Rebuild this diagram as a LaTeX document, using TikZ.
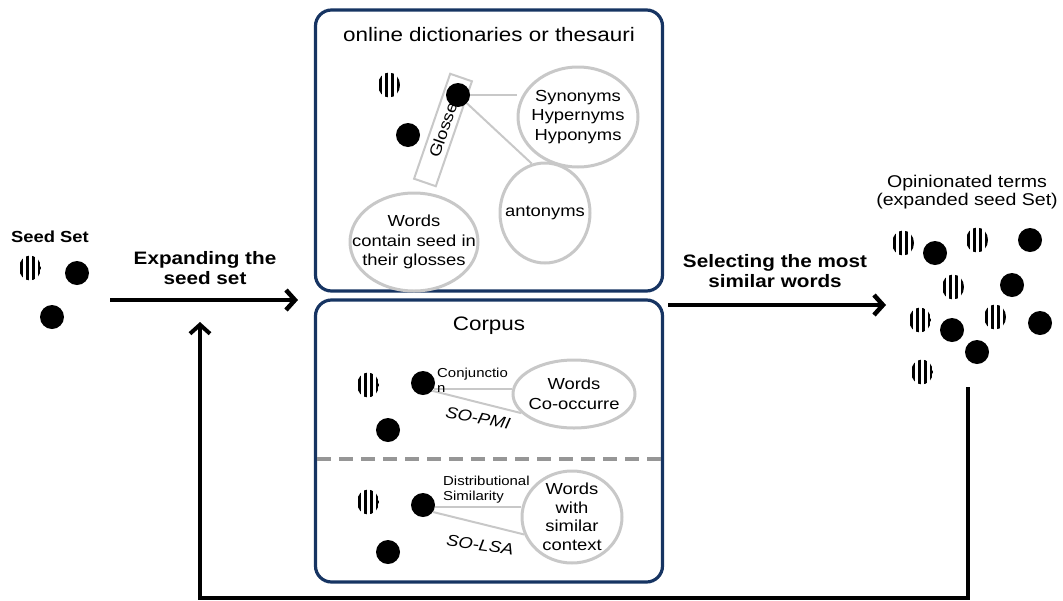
\documentclass[tikz,border=0pt]{standalone}
\usepackage{fontspec}
\setmainfont{Liberation Sans}[FakeStretch=1.15]
\usetikzlibrary{arrows.meta, positioning, calc, shapes.geometric}

\definecolor{panelblue}{RGB}{22,52,98}
\definecolor{ringgray}{RGB}{200,200,200}

\begin{document}
\begin{tikzpicture}[
    x=1pt, y=-1pt,
    panel/.style={draw=panelblue, line width=3.2pt, rounded corners=16pt,
                  minimum width=347pt},
    ttl/.style={font=\fontsize{19.5}{22}\selectfont},
    ring/.style={ellipse, draw=ringgray, line width=3pt, fill=white, inner sep=0pt},
    ringtxt/.style={align=center, inner sep=0pt, font=\fontsize{16}{19.5}\selectfont},
    blob/.style={circle, fill=black, minimum size=24pt, inner sep=0pt},
    link/.style={draw=ringgray, line width=2pt},
    small/.style={font=\fontsize{13}{15}\selectfont, align=left, inner sep=0pt},
    rel/.style={font=\itshape\fontsize{16}{18}\selectfont, inner sep=0pt},
    lbl/.style={font=\bfseries\fontsize{18}{20}\selectfont, align=center},
    flow/.style={-{Straight Barb[length=9pt, width=20pt]}, line width=4.5pt},
    stripes/.pic={
        \clip (0,0) ellipse (11 and 12.5);
        \foreach \s in {-8.5,-2.5,3.5,9.5} \fill (\s-1.6,-13) rectangle (\s+1.6,13);
    },
]
\useasboundingbox (0,0) rectangle (1063,600);

% --- the two sources: dictionaries on top, corpus below ------------------------
\node[panel, minimum height=281pt] (dict) at (489,150.5) {};
\node[panel, minimum height=282pt] (corpus) at (489,441) {};
\node[ttl] (dicttitle) at (489,35) {online dictionaries or thesauri};
\node[ttl] (corptitle) at (489,326) {Corpus};
\draw[ringgray!75!black, line width=3.5pt, dash pattern=on 14pt off 8pt]
    (317,459) -- (661,459);

% --- dictionary relations ------------------------------------------------------
\pic (ds1) at (389,85) {stripes};
\node[blob] (db1) at (408,135) {};
\node[draw=ringgray, line width=2pt, fill=white, minimum width=111pt,
      minimum height=23pt, rotate=71, font=\fontsize{16}{18}\selectfont]
      (glosse) at (443,130) {Glosse};
\node[blob] (gdot) at (458,95) {};
\node[ring, minimum width=120pt, minimum height=100pt,
      label={[ringtxt]center:Synonyms\\Hypernyms\\Hyponyms}] (syn) at (578,117) {};
\node[ring, minimum width=90pt, minimum height=100pt,
      label={[ringtxt]center:antonyms}] (anto) at (545,213) {};
\node[ring, minimum width=128pt, minimum height=98pt,
      label={[ringtxt]center:Words\\contain seed in\\their glosses}] (gwords) at (414,242) {};
\draw[link] (gdot.east) -- (gdot.east -| syn.west);
\draw[link] (gdot) -- (anto.105);

% --- corpus: co-occurrence and distributional similarity -----------------------
\pic (cs1) at (368,385) {stripes};
\node[blob] (cdot) at (423,383) {};
\node[blob] (cb1) at (388,430) {};
\node[ring, minimum width=122pt, minimum height=68pt,
      label={[ringtxt]center:Words\\Co-occurre}] (cooc) at (574,394) {};
\draw[link] (cdot.-30) -- (cdot.-30 -| cooc.west);
\draw[link] (cdot.-40) -- (cooc.200);
\node[small, anchor=north west] (conj) at (437,368) {Conjunctio\\n};
\node[rel, rotate=-11] (pmi) at (478,418) {SO-PMI};

\pic (ls1) at (368,502) {stripes};
\node[blob] (ldot) at (423,505) {};
\node[blob] (lb1) at (388,552) {};
\node[ring, minimum width=100pt, minimum height=92pt,
      label={[ringtxt, font=\fontsize{16}{18.5}\selectfont]center:Words\\with\\similar\\context}]
      (ctx) at (572,517) {};
\draw[link] (ldot.-10) -- (ldot.-10 -| ctx.west);
\draw[link] (ldot.-35) -- (ctx.200);
\node[small, anchor=north west] (distr) at (443,476) {Distributional\\Similarity};
\node[rel, rotate=-8] (lsa) at (480,545) {SO-LSA};

% --- seed set and expansion arrow ----------------------------------------------
\node[lbl, font=\bfseries\fontsize{16}{18}\selectfont] (seedlbl) at (50,237) {Seed Set};
\pic (ss1) at (30,268) {stripes};
\node[blob] (sb1) at (77,273) {};
\node[blob] (sb2) at (52,317) {};
\coordinate (expstart) at (110,300);
\coordinate (expend) at (298,300);
\draw[flow] (expstart) -- (expend);
\node[lbl] (explbl) at (205,268) {Expanding the\\seed set};

% --- selection arrow and the expanded set --------------------------------------
\coordinate (selstart) at (668,305);
\coordinate (selend) at (886,305);
\draw[flow] (selstart) -- (selend);
\node[lbl] (sellbl) at (775,271) {Selecting the most\\similar words};
\node[align=center, font=\fontsize{17}{18}\selectfont] (optitle) at (967,192)
    {Opinionated terms\\(expanded seed Set)};
\foreach \p [count=\i] in {(903,243),(977,240),(953,287),(920,320),(995,317),(922,372)}
    \pic (os\i) at \p {stripes};
\foreach \p [count=\i] in {(935,253),(1030,240),(1012,285),(952,330),(1040,323),(977,352)}
    \node[blob] (ob\i) at \p {};

% --- feedback loop back into the expansion -------------------------------------
\coordinate (fbstart) at (968,387);
\coordinate (fbcorner) at (968,598);
\coordinate (fbend) at (200,322);
\draw[flow, line width=4pt] (fbstart) -- (fbcorner) -| (fbend);

\end{tikzpicture}
\end{document}
